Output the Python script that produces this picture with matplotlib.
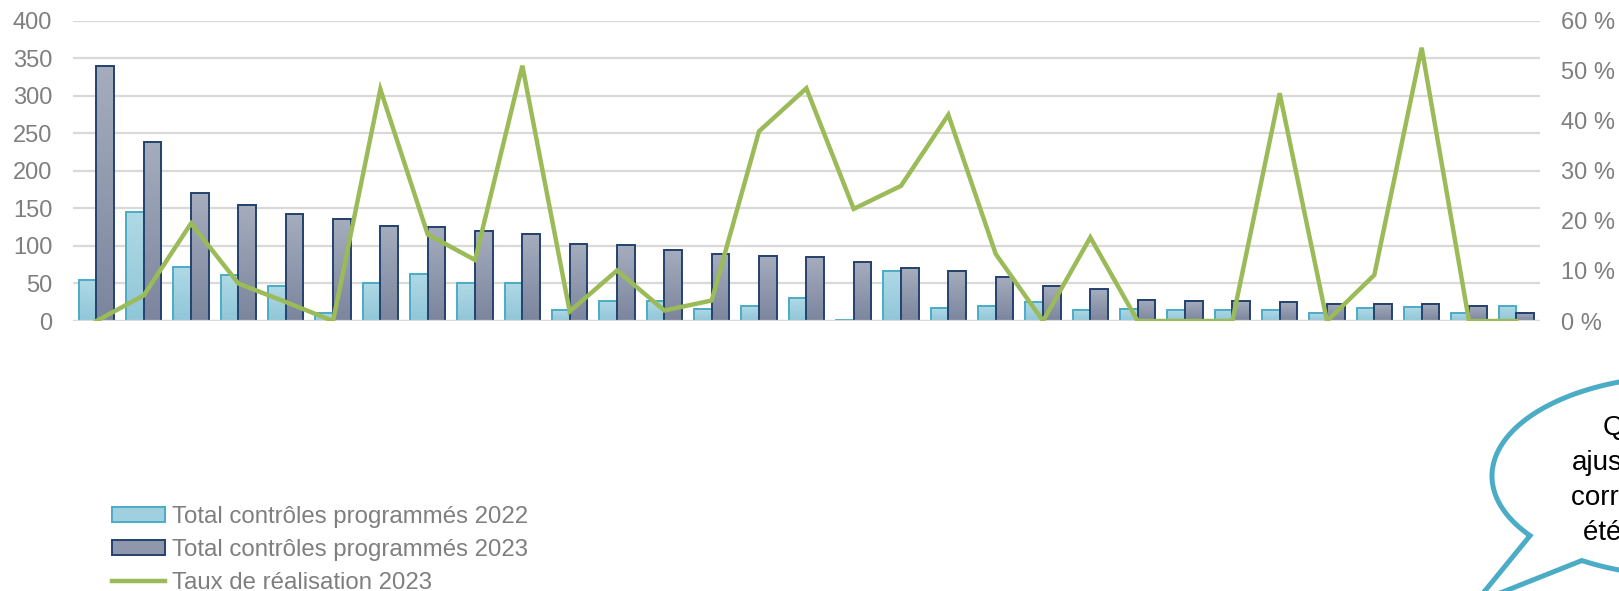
import numpy as np
import matplotlib
matplotlib.use("Agg")
import matplotlib.pyplot as plt
from matplotlib.colors import LinearSegmentedColormap
from matplotlib.patches import Patch, PathPatch
from matplotlib.lines import Line2D
from matplotlib.path import Path

plt.rcParams["font.family"] = ["Liberation Sans", "DejaVu Sans"]

# Programmed controls per unit (2022 and 2023) and 2023 completion rate (%)
controles_2022 = [54, 145, 72, 61, 47, 11, 51, 63, 50, 51, 14, 27, 27, 16, 19.5, 30,
                  1, 66, 17, 20, 25, 15, 16, 14, 15, 14, 10, 17, 18, 10, 20]
controles_2023 = [339, 239, 170, 155, 142, 136, 127, 125, 120, 116, 102, 101, 95, 89, 87, 85,
                  78, 70, 67, 59, 47, 42, 28, 27, 26, 25, 23, 23, 23, 20, 11]
taux_2023 = [0, 5.1, 19.5, 7.5, 3.8, 0, 46.3, 17.3, 12.2, 51.0, 1.9, 10.1, 2.1, 4.1, 37.9, 46.5,
             22.4, 27.0, 41.2, 13.4, 0, 16.7, 0, 0, 0, 45.5, 0, 9.2, 54.6, 0, 0]

labels = ["Total contrôles programmés 2022",
          "Total contrôles programmés 2023",
          "Taux de réalisation 2023"]
left_ticks = list(range(0, 401, 50))
right_ticks = list(range(0, 61, 10))

W, H = 1619, 591
fig = plt.figure(figsize=(W / 100, H / 100), dpi=100)
fig.patch.set_facecolor("white")

x0_px, x1_px, ytop_px, ybot_px = 72.7, 1540, 20.7, 321
ax = fig.add_axes([x0_px / W, 1 - ybot_px / H, (x1_px - x0_px) / W, (ybot_px - ytop_px) / H])

n = len(controles_2023)
x = np.arange(n)
bw = 0.374

light_edge, light_top, light_bot = "#4bacc6", "#b0d9e6", "#90c6d8"
dark_edge, dark_top, dark_bot = "#24426e", "#a5adbd", "#7b859d"
green = "#9bbb59"
grey = "#7f7f7f"


def gradient_bars(axis, xs, heights, top, bottom, edge):
    bars = axis.bar(xs, heights, width=bw, facecolor="none", edgecolor=edge,
                    linewidth=1.4, zorder=3)
    cmap = LinearSegmentedColormap.from_list("grad", [bottom, top])
    grad = np.linspace(0, 1, 128).reshape(-1, 1)
    for b in bars:
        h = b.get_height()
        if h <= 0:
            continue
        bx = b.get_x()
        axis.imshow(grad, extent=[bx, bx + b.get_width(), 0, h], origin="lower",
                    aspect="auto", cmap=cmap, zorder=2.5, interpolation="bilinear")
    return bars


gradient_bars(ax, x - bw / 2, controles_2022, light_top, light_bot, light_edge)
gradient_bars(ax, x + bw / 2, controles_2023, dark_top, dark_bot, dark_edge)

ax.set_xlim(-0.5, n - 0.5)
ax.set_ylim(0, 400)
ax.set_yticks(left_ticks)
ax.yaxis.grid(True, color="#d9d9d9", linewidth=1.6, zorder=0)
ax.axhline(0, color="#d9d9d9", linewidth=1.6, zorder=3.5)
ax.set_axisbelow(True)
ax.set_xticks([])
for s in ax.spines.values():
    s.set_visible(False)
ax.tick_params(axis="y", length=0, pad=14.8, labelsize=17, labelcolor=grey)

ax2 = ax.twinx()
ax2.plot(x, taux_2023, color=green, linewidth=3.2, solid_joinstyle="miter", zorder=5)
ax2.set_ylim(0, 60)
ax2.set_yticks(right_ticks)
ax2.set_yticklabels([f"{v} %" for v in right_ticks])
ax2.tick_params(axis="y", length=0, pad=15, labelsize=17, labelcolor=grey)
for s in ax2.spines.values():
    s.set_visible(False)
ax2.set_xlim(-0.5, n - 0.5)

handles = [
    Patch(facecolor="#a0d0df", edgecolor=light_edge, linewidth=1.4),
    Patch(facecolor="#8e97ac", edgecolor=dark_edge, linewidth=1.4),
    Line2D([0], [0], color=green, linewidth=3.2),
]
fig.legend(handles, labels, loc="upper left", bbox_to_anchor=(112 / W, 1 - 506 / H),
           frameon=False, borderpad=0, borderaxespad=0, handlelength=2.2,
           handleheight=0.55, handletextpad=0.3, labelspacing=0.45,
           fontsize=17.3, labelcolor=grey)

# Speech bubble callout in the lower right corner (pixel coordinates)
ov = fig.add_axes([0, 0, 1, 1], zorder=10)
ov.set_xlim(0, W)
ov.set_ylim(H, 0)
ov.axis("off")
ov.patch.set_visible(False)

cx, cy, a, b = 1685, 476, 193, 100
t = np.radians(np.linspace(143.4, 482.3, 400))
ex = cx + a * np.cos(t)
ey = cy + b * np.sin(t)
verts = list(zip(ex, ey)) + [(1475, 603), (ex[0], ey[0])]
codes = [Path.MOVETO] + [Path.LINETO] * (len(verts) - 2) + [Path.CLOSEPOLY]
bubble = PathPatch(Path(verts, codes), facecolor="white", edgecolor="#4bacc6",
                   linewidth=3.6, joinstyle="miter", clip_on=False)
ov.add_patch(bubble)

bubble_lines = [("Quelques", 1603, 435), ("ajustements", 1572, 470),
                ("correctifs ont", 1571, 505), ("été apportés", 1583, 540)]
for txt, tx, ty in bubble_lines:
    ov.text(tx, ty, txt, fontsize=20, color="black", ha="left", va="baseline")

fig.savefig("out.png", dpi=100)
